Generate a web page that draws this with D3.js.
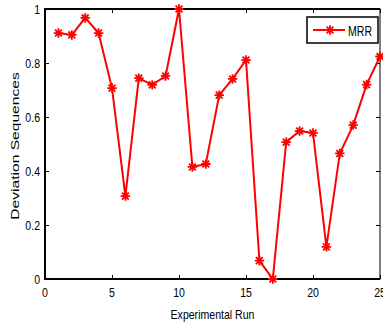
<!DOCTYPE html>
<html><head><meta charset="utf-8">
<script src="https://cdn.jsdelivr.net/npm/d3@7"></script>
<style>body{margin:0;background:#fff}svg{display:block}text{font-family:"Liberation Sans",Arial,sans-serif;fill:#000}</style>
</head><body>
<script>
const runs = d3.range(1, 26);
const mrr = [0.911,0.904,0.967,0.911,0.707,0.307,0.744,0.719,0.752,1.0,0.415,0.426,0.681,0.741,0.811,0.068,0.0,0.507,0.548,0.541,0.119,0.465,0.570,0.720,0.824];
const xTicks = [0,5,10,15,20,25];
const yTicks = [0,0.2,0.4,0.6,0.8,1];
const yTickLabels = ["0","0.2","0.4","0.6","0.8","1"];
const seriesName = "MRR";

const W=383,H=324, m={l:45,r:3,t:9,b:45};
const svg=d3.select("body").append("svg").attr("width",W).attr("height",H);
const x=d3.scaleLinear().domain([0,25]).range([m.l,W-m.r]);
const y=d3.scaleLinear().domain([0,1]).range([H-m.b,m.t]);
const fs=12, SX=0.88, SY=1.12;

function htext(px,py,str,anchor,sy){
  return svg.append("text").attr("transform",`translate(${px},${py}) scale(${SX},${sy||SY})`)
    .attr("text-anchor",anchor).attr("font-size",fs).text(str);
}

// frame
svg.append("rect").attr("x",x(0)).attr("y",y(1)).attr("width",x(25)-x(0)).attr("height",y(0)-y(1))
  .attr("fill","none").attr("stroke","#000").attr("stroke-width",1);
svg.append("line").attr("x1",x(0)).attr("x2",x(0)).attr("y1",y(1)-1).attr("y2",y(0)+1).attr("stroke","#000").attr("stroke-width",2);
svg.append("line").attr("x1",x(0)).attr("x2",x(25)).attr("y1",y(0)).attr("y2",y(0)).attr("stroke","#000").attr("stroke-width",2);
svg.append("line").attr("x1",x(0)).attr("x2",x(25)).attr("y1",y(1)).attr("y2",y(1)).attr("stroke","#000").attr("stroke-width",2);

const gx=svg.append("g").attr("transform",`translate(0,${y(0)})`)
  .call(d3.axisBottom(x).tickValues(xTicks).tickSize(-4).tickFormat(""));
const gxt=svg.append("g").attr("transform",`translate(0,${y(1)})`)
  .call(d3.axisTop(x).tickValues(xTicks).tickSize(-4).tickFormat(""));
const gy=svg.append("g").attr("transform",`translate(${x(0)},0)`)
  .call(d3.axisLeft(y).tickValues(yTicks).tickSize(-4).tickFormat(""));
const gyr=svg.append("g").attr("transform",`translate(${x(25)},0)`)
  .call(d3.axisRight(y).tickValues(yTicks).tickSize(-4).tickFormat(""));
[gx,gxt,gy,gyr].forEach(g=>{g.select(".domain").remove();g.selectAll("line").attr("stroke","#000");});

// tick labels
xTicks.forEach(v=>htext(x(v),297,String(v),"middle"));
yTicks.forEach((v,i)=>htext(40,y(v)+4.8,yTickLabels[i],"end"));

// line + markers
const data=runs.map((r,i)=>({r,v:mrr[i]}));
svg.append("path").datum(data).attr("fill","none").attr("stroke","#ff0000").attr("stroke-width",2)
  .attr("d",d3.line().x(d=>x(d.r)).y(d=>y(d.v)));
const star={draw(ctx,size){const r=Math.sqrt(size)/2, d=r*0.72;
  ctx.moveTo(-r,0);ctx.lineTo(r,0);ctx.moveTo(0,-r);ctx.lineTo(0,r);
  ctx.moveTo(-d,-d);ctx.lineTo(d,d);ctx.moveTo(-d,d);ctx.lineTo(d,-d);}};
const sym=d3.symbol().type(star).size(90);
svg.selectAll(".mk").data(data).join("path").attr("class","mk")
  .attr("transform",d=>`translate(${x(d.r)},${y(d.v)})`).attr("d",sym)
  .attr("fill","none").attr("stroke","#ff0000").attr("stroke-width",1.8);

// axis titles
htext((x(0)+x(25))/2,319,"Experimental Run","middle");
svg.append("text").attr("transform",`translate(19,146) rotate(-90) scale(1.3,${SX})`)
  .attr("text-anchor","middle").attr("font-size",fs).text("Deviation Sequences");

// legend
const lg=svg.append("g");
lg.append("rect").attr("x",307).attr("y",17).attr("width",71).attr("height",26).attr("fill","#fff").attr("stroke","#000").attr("stroke-width",1.5);
lg.append("line").attr("x1",313).attr("x2",345).attr("y1",30).attr("y2",30).attr("stroke","#ff0000").attr("stroke-width",2);
lg.append("path").attr("transform","translate(330,30)").attr("d",sym).attr("fill","none").attr("stroke","#ff0000").attr("stroke-width",1.8);
htext(348,35.5,seriesName,"start",1.2);
</script>
</body></html>
